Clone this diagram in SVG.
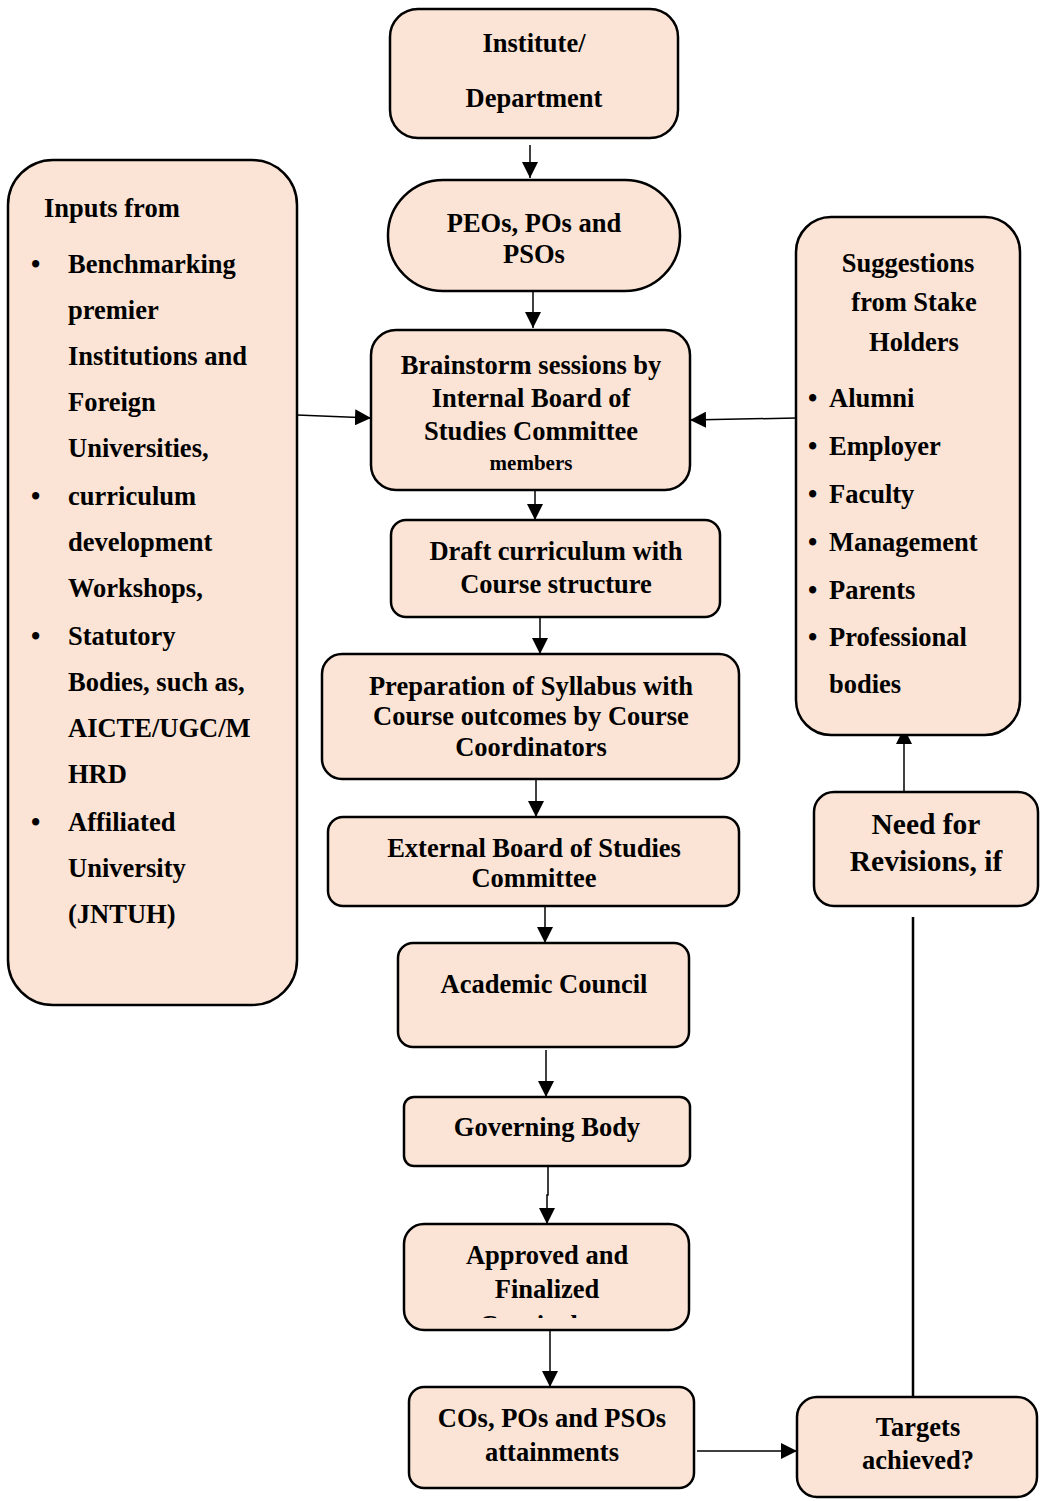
<svg xmlns="http://www.w3.org/2000/svg" width="1043" height="1501" viewBox="0 0 1043 1501">
<style>
.box{fill:#FBE4D5;stroke:#000;stroke-width:2.5}
.t{font-family:"Liberation Serif","Times New Roman",serif;font-weight:bold;font-size:26.5px;fill:#000}
.c{text-anchor:middle}
.ln{stroke:#000;stroke-width:1.5;fill:none}
</style>
<defs>
<marker id="ah2" viewBox="0 0 10 10" refX="10" refY="5" markerWidth="16" markerHeight="16" markerUnits="userSpaceOnUse" orient="auto">
<path d="M0,0 L10,5 L0,10 z" fill="#000"/>
</marker>
<clipPath id="clipApproved"><rect x="404" y="1224" width="285" height="94"/></clipPath>
</defs>
<rect width="1043" height="1501" fill="#fff"/>

<g id="connectors">
<line class="ln" x1="530" y1="145" x2="530" y2="178" marker-end="url(#ah2)"/>
<line class="ln" x1="533" y1="291" x2="533" y2="328" marker-end="url(#ah2)"/>
<line class="ln" x1="297" y1="415" x2="371" y2="418" marker-end="url(#ah2)"/>
<line class="ln" x1="796" y1="418" x2="690" y2="420" marker-end="url(#ah2)"/>
<line class="ln" x1="535" y1="490" x2="535" y2="520" marker-end="url(#ah2)"/>
<line class="ln" x1="540" y1="617" x2="540" y2="654" marker-end="url(#ah2)"/>
<line class="ln" x1="536" y1="779" x2="536" y2="817" marker-end="url(#ah2)"/>
<line class="ln" x1="545" y1="906" x2="545" y2="943" marker-end="url(#ah2)"/>
<line class="ln" x1="546" y1="1050" x2="546" y2="1097" marker-end="url(#ah2)"/>
<polyline class="ln" points="548,1166 548,1195 547,1195 547,1224" marker-end="url(#ah2)"/>
<line class="ln" x1="550" y1="1330" x2="550" y2="1387" marker-end="url(#ah2)"/>
<line class="ln" x1="697" y1="1451" x2="797" y2="1451" marker-end="url(#ah2)"/>
<line x1="913" y1="1397" x2="913" y2="917" stroke="#000" stroke-width="2.5"/>
<line class="ln" x1="904" y1="792" x2="904" y2="728" marker-end="url(#ah2)"/>
</g>

<g id="institute">
<rect class="box" x="390" y="9" width="288" height="129" rx="28"/>
<text class="t c" x="534" y="52">Institute/</text>
<text class="t c" x="534" y="107">Department</text>
</g>

<g id="peos">
<rect class="box" x="388" y="180" width="292" height="111" rx="55"/>
<text class="t c" x="534" y="232">PEOs, POs and</text>
<text class="t c" x="534" y="263">PSOs</text>
</g>

<g id="inputs">
<rect class="box" x="8" y="160" width="289" height="845" rx="45"/>
<text class="t" x="44" y="217">Inputs from</text>
<g class="t">
<text x="31" y="273">•</text>
<text x="68" y="273">Benchmarking</text>
<text x="68" y="319">premier</text>
<text x="68" y="365">Institutions and</text>
<text x="68" y="411">Foreign</text>
<text x="68" y="457">Universities,</text>
<text x="31" y="505">•</text>
<text x="68" y="505">curriculum</text>
<text x="68" y="551">development</text>
<text x="68" y="597">Workshops,</text>
<text x="31" y="645">•</text>
<text x="68" y="645">Statutory</text>
<text x="68" y="691">Bodies, such as,</text>
<text x="68" y="737">AICTE/UGC/M</text>
<text x="68" y="783">HRD</text>
<text x="31" y="831">•</text>
<text x="68" y="831">Affiliated</text>
<text x="68" y="877">University</text>
<text x="68" y="923">(JNTUH)</text>
</g>
</g>

<g id="brainstorm">
<rect class="box" x="371" y="330" width="319" height="160" rx="25"/>
<text class="t c" x="531" y="374">Brainstorm sessions by</text>
<text class="t c" x="531" y="407">Internal Board of</text>
<text class="t c" x="531" y="440">Studies Committee</text>
<text class="t c" x="531" y="470" style="font-size:21px">members</text>
</g>

<g id="suggestions">
<rect class="box" x="796" y="217" width="224" height="518" rx="35"/>
<text class="t c" x="908" y="272">Suggestions</text>
<text class="t c" x="914" y="311">from Stake</text>
<text class="t c" x="914" y="351">Holders</text>
<g class="t">
<text x="808" y="407">•</text><text x="829" y="407">Alumni</text>
<text x="808" y="455">•</text><text x="829" y="455">Employer</text>
<text x="808" y="503">•</text><text x="829" y="503">Faculty</text>
<text x="808" y="551">•</text><text x="829" y="551">Management</text>
<text x="808" y="599">•</text><text x="829" y="599">Parents</text>
<text x="808" y="646">•</text><text x="829" y="646">Professional</text>
<text x="829" y="693">bodies</text>
</g>
</g>

<g id="draft">
<rect class="box" x="391" y="520" width="329" height="97" rx="15"/>
<text class="t c" x="556" y="560">Draft curriculum with</text>
<text class="t c" x="556" y="593">Course structure</text>
</g>

<g id="syllabus">
<rect class="box" x="322" y="654" width="417" height="125" rx="20"/>
<text class="t c" x="531" y="695">Preparation of Syllabus with</text>
<text class="t c" x="531" y="725">Course outcomes by Course</text>
<text class="t c" x="531" y="756">Coordinators</text>
</g>

<g id="external">
<rect class="box" x="328" y="817" width="411" height="89" rx="15"/>
<text class="t c" x="534" y="857">External Board of Studies</text>
<text class="t c" x="534" y="887">Committee</text>
</g>

<g id="academic">
<rect class="box" x="398" y="943" width="291" height="104" rx="15"/>
<text class="t c" x="544" y="993">Academic Council</text>
</g>

<g id="governing">
<rect class="box" x="404" y="1097" width="286" height="69" rx="10"/>
<text class="t c" x="547" y="1136">Governing Body</text>
</g>

<g id="approved">
<rect class="box" x="404" y="1224" width="285" height="106" rx="20"/>
<text class="t c" x="547" y="1264">Approved and</text>
<text class="t c" x="547" y="1298">Finalized</text>
<text class="t c" x="547" y="1334" clip-path="url(#clipApproved)">Curriculum</text>
</g>

<g id="cos">
<rect class="box" x="409" y="1387" width="285" height="101" rx="15"/>
<text class="t c" x="552" y="1427">COs, POs and PSOs</text>
<text class="t c" x="552" y="1461">attainments</text>
</g>

<g id="targets">
<rect class="box" x="797" y="1397" width="240" height="100" rx="20"/>
<text class="t c" x="918" y="1436">Targets</text>
<text class="t c" x="918" y="1469">achieved?</text>
</g>

<g id="revisions">
<rect class="box" x="814" y="792" width="224" height="114" rx="20"/>
<text class="t c" x="926" y="834" style="font-size:29.5px">Need for</text>
<text class="t c" x="926" y="871" style="font-size:29.5px">Revisions, if</text>
</g>
</svg>
